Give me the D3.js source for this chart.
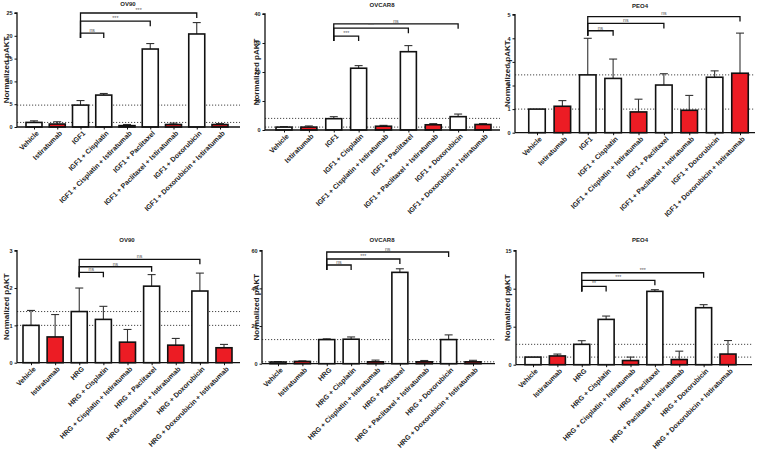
<!DOCTYPE html>
<html><head><meta charset="utf-8">
<script src="https://cdn.jsdelivr.net/npm/d3@7"></script>
<style>
body{margin:0;background:#fff;}
svg{display:block;font-family:"Liberation Sans",Arial,sans-serif;}
</style></head>
<body><svg id="c" width="758" height="452"></svg>
<script>
// ---------- DATA ----------
const catsIGF1 = ["Vehicle","Istiratumab","IGF1","IGF1 + Cisplatin","IGF1 + Cisplatin + Istiratumab","IGF1 + Paclitaxel","IGF1 + Paclitaxel + Istiratumab","IGF1 + Doxorubicin","IGF1 + Doxorubicin + Istiratumab"];
const catsHRG = ["Vehicle","Istiratumab","HRG","HRG + Cisplatin","HRG + Cisplatin + Istiratumab","HRG + Paclitaxel","HRG + Paclitaxel + Istiratumab","HRG + Doxorubicin","HRG + Doxorubicin + Istiratumab"];

const titles = ["OV90","OVCAR8","PEO4","OV90","OVCAR8","PEO4"];
const yLabel = "Normalized pAKT";

const ov90IGF1Mean   = [1.0,0.65,4.8,7.0,0.3,17.1,0.55,20.4,0.55];
const ov90IGF1Err    = [0.35,0.5,1.0,0.35,0.25,1.2,0.3,2.5,0.2];
const ovcar8IGF1Mean = [1.0,1.0,3.9,21.3,1.3,27.0,1.8,4.6,1.9];
const ovcar8IGF1Err  = [0.15,0.4,0.7,0.9,0.3,2.1,0.4,0.9,0.3];
const peo4IGF1Mean   = [1.0,1.12,2.45,2.3,0.88,2.02,0.95,2.35,2.52];
const peo4IGF1Err    = [0,0.24,1.55,0.82,0.54,0.48,0.63,0.27,1.7];

const ov90HRGMean    = [1.0,0.69,1.37,1.16,0.55,2.05,0.47,1.92,0.4];
const ov90HRGErr     = [0.4,0.6,0.63,0.35,0.34,0.31,0.18,0.48,0.09];
const ovcar8HRGMean  = [0.9,1.2,12.8,13.0,1.0,48.5,1.0,12.8,1.0];
const ovcar8HRGErr   = [0.2,0.3,0.4,1.2,0.9,1.9,0.7,2.5,0.8];
const peo4HRGMean    = [1.0,1.15,2.68,5.96,0.55,9.65,0.68,7.5,1.4];
const peo4HRGErr     = [0,0.25,0.48,0.44,0.45,0.22,1.1,0.4,1.78];

const yMax   = [25,40,5,3,60,15];
const yTicks = [[0,5,10,15,20,25],[0,10,20,30,40],[0,1,2,3,4,5],[0,1,2,3],[0,20,40,60],[0,5,10,15]];
const refLines = [[1,4.8],[1,4.0],[1,2.45],[1,1.37],[1,12.8],[1,2.68]];
// brackets: [from index, to index, level, label]
const brOV90IGF1   = [[2,3,20.6,"ns"],[2,5,23.2,"***"],[2,7,25,"***"]];
const brOVCAR8IGF1 = [[2,3,32.4,"***"],[2,5,35.1,"***"],[2,7,36.6,"ns"]];
const brPEO4IGF1   = [[2,3,4.32,"ns"],[2,5,4.63,"ns"],[2,8,4.92,"ns"]];
const brOV90HRG    = [[2,3,2.42,"ns"],[2,5,2.57,"ns"],[2,7,2.77,"ns"]];
const brOVCAR8HRG  = [[2,3,52.4,"ns"],[2,5,55.6,"***"],[2,7,59.3,"ns"]];
const brPEO4HRG    = [[2,3,10.3,"**"],[2,5,11.1,"***"],[2,7,12.1,"***"]];

const panelsData = [
  {cats:catsIGF1, mean:ov90IGF1Mean,   err:ov90IGF1Err,   br:brOV90IGF1},
  {cats:catsIGF1, mean:ovcar8IGF1Mean, err:ovcar8IGF1Err, br:brOVCAR8IGF1},
  {cats:catsIGF1, mean:peo4IGF1Mean,   err:peo4IGF1Err,   br:brPEO4IGF1},
  {cats:catsHRG,  mean:ov90HRGMean,    err:ov90HRGErr,    br:brOV90HRG},
  {cats:catsHRG,  mean:ovcar8HRGMean,  err:ovcar8HRGErr,  br:brOVCAR8HRG},
  {cats:catsHRG,  mean:peo4HRGMean,    err:peo4HRGErr,    br:brPEO4HRG}
];

// ---------- LAYOUT ----------
const layout = [
  {ax:17,  c0:34,  c1:220, end:240, y0:127,   yt:13,    tx:128, ty:6,   lx:6,   bw:16},
  {ax:265, c0:284, c1:483, end:500, y0:130,   yt:14,    tx:382, ty:7,   lx:256, bw:16},
  {ax:515, c0:537, c1:740, end:755, y0:132.7, yt:14.7,  tx:640, ty:8,   lx:507, bw:16.5},
  {ax:17,  c0:31,  c1:224, end:240, y0:362.7, yt:250.7, tx:127, ty:242, lx:6,   bw:16},
  {ax:262, c0:278, c1:473, end:495, y0:363.7, yt:250.7, tx:382, ty:242, lx:256, bw:16},
  {ax:516, c0:533, c1:728, end:752, y0:364.7, yt:250.7, tx:640, ty:242, lx:507, bw:16}
];

const RED = "#ec1c24";
const svg = d3.select("#c");

panelsData.forEach((pd,i)=>{
  const L = layout[i];
  const g = svg.append("g");
  const x = d3.scalePoint().domain(pd.cats).range([L.c0, L.c1]);
  const y = d3.scaleLinear().domain([0, yMax[i]]).range([L.y0, L.yt]);

  // reference dotted lines
  g.selectAll("line.ref").data(refLines[i]).join("line").attr("class","ref")
    .attr("x1", L.ax).attr("x2", L.end)
    .attr("y1", d=>y(d)).attr("y2", d=>y(d))
    .attr("stroke","#333").attr("stroke-width",0.9).attr("stroke-dasharray","1.2,1.8");

  const rows = pd.cats.map((c,k)=>({c, m:pd.mean[k], e:pd.err[k]}));

  // error bars
  g.selectAll("line.err").data(rows.filter(r=>r.e>0)).join("line").attr("class","err")
    .attr("x1", r=>x(r.c)).attr("x2", r=>x(r.c))
    .attr("y1", r=>y(r.m)).attr("y2", r=>y(r.m+r.e))
    .attr("stroke","#333").attr("stroke-width",1.1);
  g.selectAll("line.cap").data(rows.filter(r=>r.e>0)).join("line").attr("class","cap")
    .attr("x1", r=>x(r.c)-4).attr("x2", r=>x(r.c)+4)
    .attr("y1", r=>y(r.m+r.e)).attr("y2", r=>y(r.m+r.e))
    .attr("stroke","#333").attr("stroke-width",1.1);

  // bars
  g.selectAll("rect.bar").data(rows).join("rect").attr("class","bar")
    .attr("x", r=>x(r.c)-L.bw/2).attr("width", L.bw)
    .attr("y", r=>y(r.m)).attr("height", r=>L.y0 - y(r.m))
    .attr("fill", r=>r.c.includes("Istiratumab") ? RED : "#fff")
    .attr("stroke","#111").attr("stroke-width",1.6);

  // y axis
  const ya = g.append("g").attr("transform",`translate(${L.ax},0)`)
    .call(d3.axisLeft(y).tickValues(yTicks[i]).tickSize(2.5).tickPadding(2).tickFormat(d3.format("d")));
  ya.select(".domain").attr("stroke","#111").attr("stroke-width",1.3).attr("d",`M-2.5,${L.yt}H0V${L.y0}`);
  ya.selectAll(".tick line").attr("stroke","#111");
  ya.selectAll("text").attr("font-size",5.5).attr("font-weight","bold").attr("fill","#222").attr("font-family","Liberation Sans, Arial");

  // x axis
  const xa = g.append("g").attr("transform",`translate(0,${L.y0})`)
    .call(d3.axisBottom(x).tickSize(2.5).tickFormat(""));
  xa.select(".domain").attr("stroke","#111").attr("stroke-width",1.3).attr("d",`M${L.ax},0H${L.end}`);
  xa.selectAll(".tick line").attr("stroke","#111");
  xa.selectAll(".tick").append("text")
    .attr("transform","translate(3,5) rotate(-45)")
    .attr("text-anchor","end").attr("dy","0.35em")
    .attr("font-size",7.0).attr("font-weight","bold").attr("fill","#222")
    .attr("font-family","Liberation Sans, Arial")
    .text(d=>d);

  // brackets
  const lowY = d3.max(pd.br, b=>y(b[2]));
  g.selectAll("path.br").data(pd.br).join("path").attr("class","br")
    .attr("d", b=>{
      const x1 = x(pd.cats[b[0]]), x2 = x(pd.cats[b[1]]), yy = y(b[2]);
      return `M${x1},${lowY+5}V${yy}H${x2}V${yy+5}`;
    })
    .attr("fill","none").attr("stroke","#111").attr("stroke-width",1.3);
  g.selectAll("text.brl").data(pd.br).join("text").attr("class","brl")
    .attr("x", b=>(x(pd.cats[b[0]])+x(pd.cats[b[1]]))/2)
    .attr("y", b=>y(b[2])-1.2)
    .attr("text-anchor","middle").attr("font-size",5.2).attr("fill","#555")
    .text(b=>b[3]);

  // title
  g.append("text").attr("x",L.tx).attr("y",L.ty).attr("text-anchor","middle")
    .attr("font-size",6).attr("font-weight","bold").attr("fill","#222").text(titles[i]);

  // y label
  g.append("text")
    .attr("transform",`translate(${L.lx},${(L.y0+L.yt)/2}) rotate(-90)`)
    .attr("text-anchor","middle").attr("dy","0.35em")
    .attr("font-size",8).attr("font-weight","bold").attr("fill","#222").text(yLabel);
});
</script></body></html>
